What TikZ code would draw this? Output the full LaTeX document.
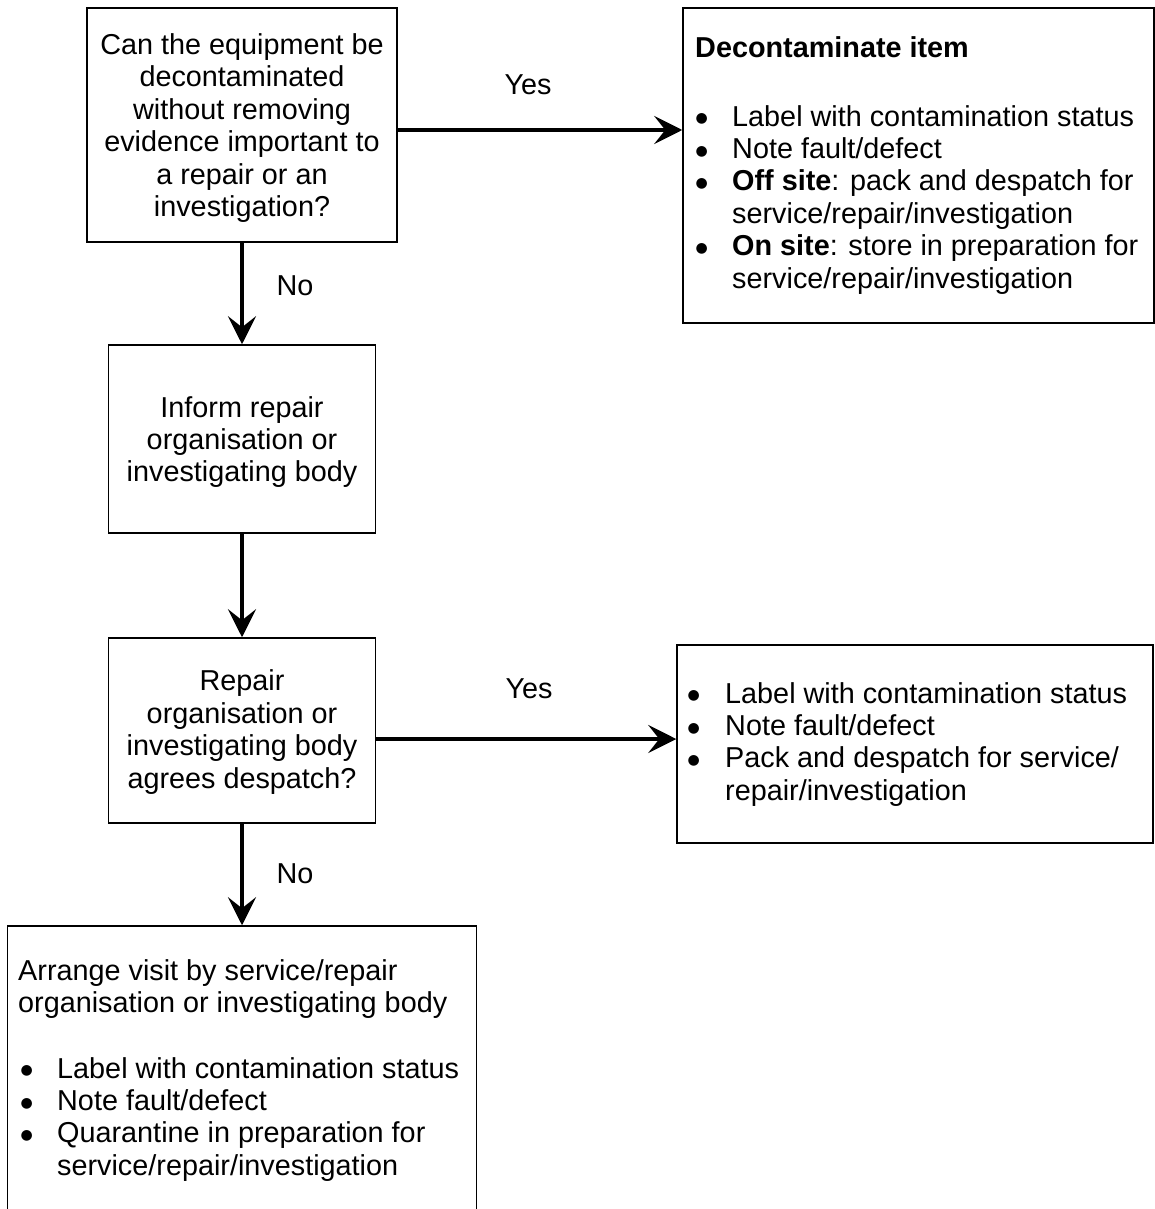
\documentclass[tikz,border=0pt]{standalone}
\usepackage{fontspec}
\setmainfont{Liberation Sans}
\newfontfamily\bulfont{DejaVu Sans}
\usetikzlibrary{arrows.meta}
\newcommand{\mybul}[1][37pt]{\makebox[#1][l]{\hspace*{0.5pt}\raisebox{3.5pt}{\bulfont\fontsize{14}{16}\selectfont ●}}}
\newcommand{\myind}[1][37pt]{\hspace*{#1}}
\begin{document}
\begin{tikzpicture}[x=1pt,y=-1pt,
  font=\fontsize{28.8}{32.4}\selectfont,
  box/.style={draw, line width=1.5pt, inner sep=0pt, align=center},
  ctxt/.style={inner sep=0pt, align=center},
  txt/.style={inner sep=0pt, align=left, anchor=north west},
  lbl/.style={inner sep=0pt, anchor=base},
  arr/.style={line width=4pt, -{Stealth[length=28pt,width=28pt,inset=11pt]}}]
\useasboundingbox (0,0) rectangle (1155,1209);
\clip (0,0) rectangle (1155,1209);

% boxes
\node[box, minimum width=310pt, minimum height=234pt] (b1) at (242,125) {};
\node[ctxt] (t1) at (242,128)
  {Can the equipment be\\decontaminated\\without removing\\evidence important to\\a repair or an\\investigation?};
\node[box, minimum width=267pt, minimum height=188pt] (b2) at (242,439) {};
\node[ctxt] (t2) at (242,442)
  {Inform repair\\organisation or\\investigating body};
\node[box, minimum width=267pt, minimum height=185pt] (b4) at (242,730.5) {};
\node[ctxt] (t4) at (242,732)
  {Repair\\organisation or\\investigating body\\agrees despatch?};
\node[box, minimum width=471pt, minimum height=315pt] (b3) at (918.5,165.5) {};
\node[box, minimum width=476pt, minimum height=198pt] (b5) at (915,744) {};
\node[box, minimum width=469pt, minimum height=314pt] (b6) at (242,1083) {};

% texts inside left-aligned boxes
\node[txt] (h3) at (695,34.3) {\strut\textbf{Decontaminate item}};
\node[txt] (l3) at (695,103.3) {\strut\mybul Label with contamination status\\
  \mybul Note fault/defect\\
  \mybul\textbf{Off site}: pack and despatch for\\
  \myind service/repair/investigation\\
  \mybul\textbf{On site}: store in preparation for\\
  \myind service/repair/investigation};
\node[txt] (l5) at (687,680.3) {\strut\mybul[38pt]Label with contamination status\\
  \mybul[38pt]Note fault/defect\\
  \mybul[38pt]Pack and despatch for service/\\
  \myind[38pt]repair/investigation};
\node[txt] (h6) at (18,957.3) {\strut Arrange visit by service/repair\\organisation or investigating body};
\node[txt] (l6) at (20,1055.3) {\strut\mybul Label with contamination status\\
  \mybul Note fault/defect\\
  \mybul Quarantine in preparation for\\
  \myind service/repair/investigation};

% connectors
\coordinate (a1) at (0,130);
\coordinate (a2) at (0,739);
\draw[arr] (b1.east |- a1) -- (b3.west |- a1);
\draw[arr] (b4.east |- a2) -- (b5.west |- a2);
\draw[arr] (b1.south) -- (b2.north);
\draw[arr] (b2.south) -- (b4.north);
\draw[arr] (b4.south) -- (b6.north);

% labels
\node[lbl] (y1) at (528,95) {Yes};
\node[lbl] (y2) at (529,698) {Yes};
\node[lbl] (n1) at (295,295) {No};
\node[lbl] (n2) at (295,883) {No};
\end{tikzpicture}
\end{document}
